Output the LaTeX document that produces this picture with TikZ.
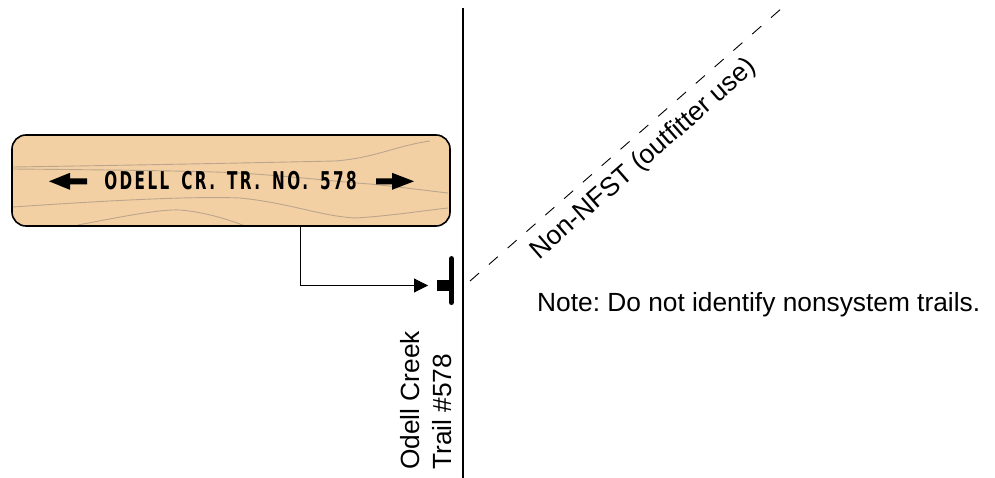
\documentclass[tikz,border=0pt]{standalone}
\usepackage{fontspec}
\setmainfont{Liberation Sans}
\newfontfamily\signfont[FakeStretch=0.62,LetterSpace=10]{DejaVu Sans Bold}
\usetikzlibrary{arrows.meta,calc}

\definecolor{boardtan}{HTML}{F2D0A4}
\definecolor{grain}{HTML}{BBA58C}

\begin{document}
\frenchspacing
\begin{tikzpicture}[x=1pt,y=-1pt,
  lbl/.style={font=\fontsize{26.3}{32.5}\selectfont, inner sep=0pt},
  boardshape/.style={rounded corners=14pt, minimum width=438pt, minimum height=91pt, inner sep=0pt},
  grainline/.style={draw=grain, line width=0.9pt},
  leader/.style={line width=0.9pt, -{Triangle[length=14pt,width=14pt]}},
  trailline/.style={line width=2.6pt},
  otherline/.style={line width=0.9pt, dash pattern=on 12pt off 13pt}]
\useasboundingbox (0,0) rectangle (995,478);

% main trail
\coordinate (mtop) at (463,8);
\coordinate (mbot) at (463,478);
\draw[trailline] (mtop) -- (mbot);

% wooden sign: board, grain, then border and lettering
\node (board) [boardshape, fill=boardtan] at (231,180.5) {};
\draw[grainline] (13,167) .. controls (150,165) and (290,162) .. (335,161)
  .. controls (375,158) and (395,146) .. (430,141);
\draw[grainline] (13,169) .. controls (120,170) and (200,171) .. (240,173)
  .. controls (300,177) and (340,182) .. (370,184)
  .. controls (400,187) and (430,191) .. (448,193);
\draw[grainline] (13,207) .. controls (100,201) and (190,196) .. (240,198)
  .. controls (290,203) and (320,216) .. (355,218)
  .. controls (390,216) and (420,211) .. (448,208);
\draw[grainline] (78,225) .. controls (120,217) and (160,209) .. (180,210)
  .. controls (205,212) and (230,220) .. (245,226);
\node (sign) [boardshape, draw, line width=1.6pt] at (board) {};
\node (signtext) [inner sep=0pt, font=\signfont\fontsize{24.5}{24.5}\selectfont,
  anchor=base] at (230.5,189.5) {\spaceskip=12pt\relax ODELL CR. TR. NO. 578};
\fill (49,181.3) -- (70,172.8) -- (70,178.3) -- (87,178.3) -- (87,184.3)
  -- (70,184.3) -- (70,189.8) -- cycle;
\fill (414,181.3) -- (392,172.8) -- (392,178.3) -- (376,178.3) -- (376,184.3)
  -- (392,184.3) -- (392,189.8) -- cycle;

% trailhead marker
\node (th) [fill, minimum width=11.5pt, minimum height=11pt, inner sep=0pt] at (443,285.5) {};
\draw[line width=5.5pt, line cap=round] (th.north east) ++(2.5,-21) coordinate (thtop)
  (thtop) -- ++(0,43.5) coordinate (thbot);

% leader from sign to marker
\draw[leader] ($(sign.south west)!0.6575!(sign.south east)$) |- ([xshift=-9pt]th.west);

% non-system trail
\coordinate (nsA) at (470,281);
\coordinate (nsB) at (782,8);
\draw[otherline] (nsA) -- (nsB);
\node[lbl, font=\fontsize{26.5}{32.5}\selectfont, rotate=41.2] (nslabel) at (644,159.5) {Non-NFST (outfitter use)};

% labels
\node[lbl, anchor=base west] (note) at (537,311.5) {Note: Do not identify nonsystem trails.};
\node[lbl, rotate=90, align=left, anchor=south west] (trailname) at (452,470) {Odell Creek\\Trail \#578};
\end{tikzpicture}
\end{document}
